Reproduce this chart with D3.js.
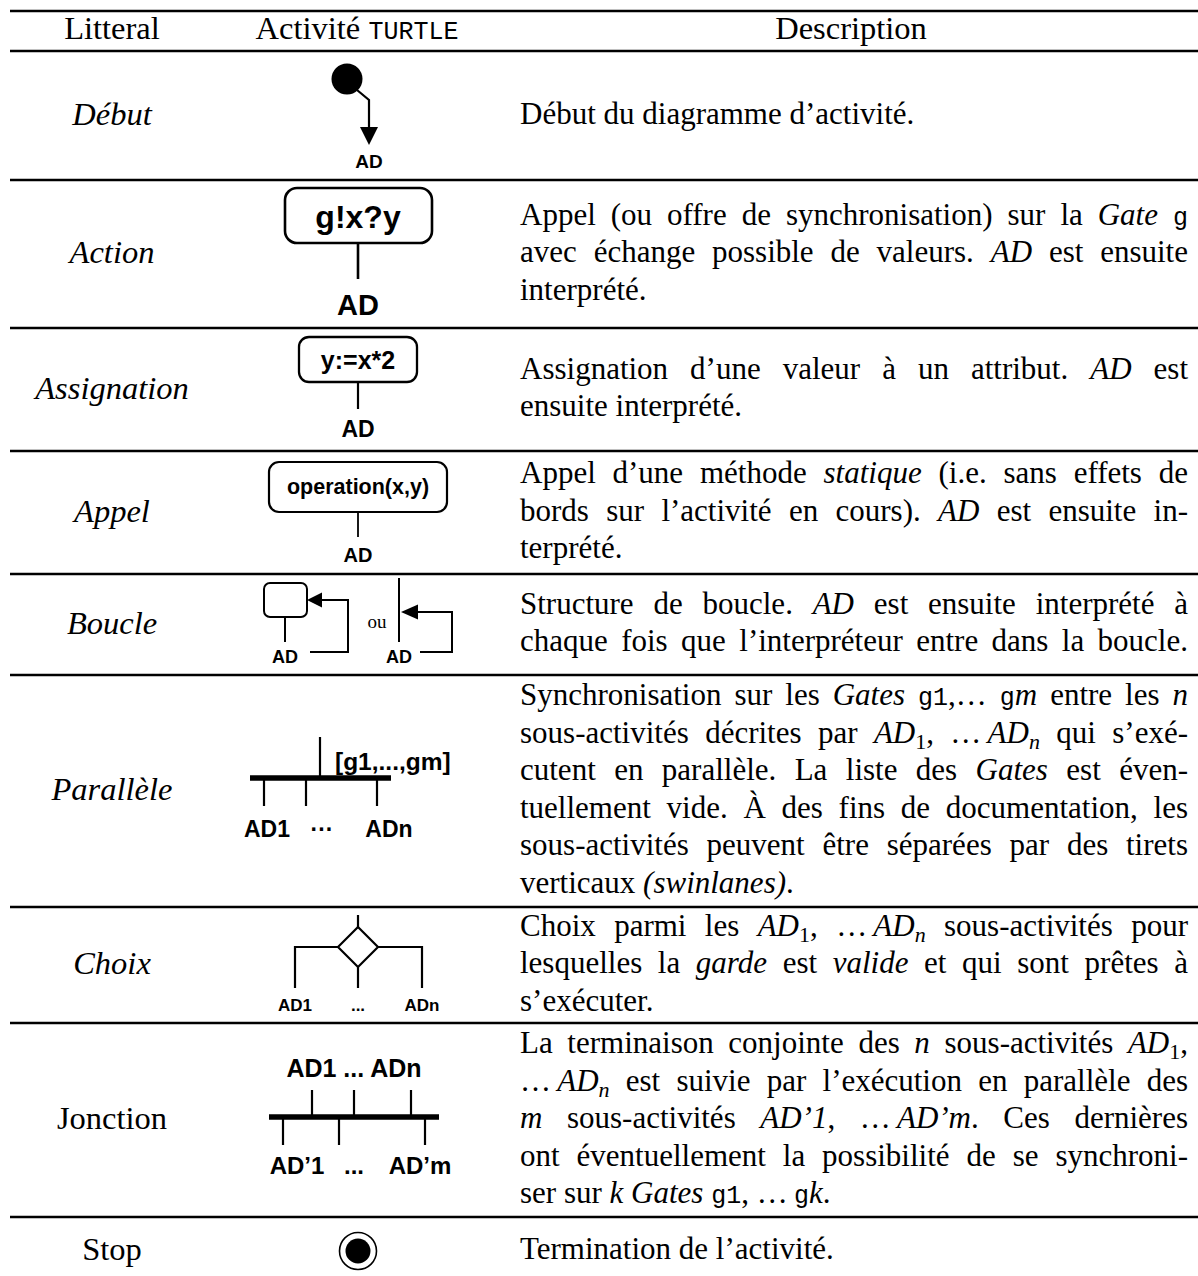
<!DOCTYPE html>
<html><head><meta charset="utf-8">
<script src="https://cdn.jsdelivr.net/npm/d3@7"></script>
<style>
html,body{margin:0;padding:0;background:#fff;}
svg{display:block;}
</style></head>
<body>
<svg id="chart" width="1198" height="1276"></svg>
<script>
// ---------------- data ----------------
const headers = ["Litteral", "Activité ", "TURTLE", "Description"];
const literals = ["Début","Action","Assignation","Appel","Boucle","Parallèle","Choix","Jonction","Stop"];
const uprightLiterals = ["Jonction","Stop"];
const descriptions = [
 ["Début du diagramme d’activité."],
 ["Appel (ou offre de synchronisation) sur la *Gate* `g`",
  "avec échange possible de valeurs. *AD* est ensuite",
  "interprété."],
 ["Assignation d’une valeur à un attribut. *AD* est",
  "ensuite interprété."],
 ["Appel d’une méthode *statique* (i.e. sans effets de",
  "bords sur l’activité en cours). *AD* est ensuite in-",
  "terprété."],
 ["Structure de boucle. *AD* est ensuite interprété à",
  "chaque fois que l’interpréteur entre dans la boucle."],
 ["Synchronisation sur les *Gates* `g1`,… `g`*m* entre les *n*",
  "sous-activités décrites par *AD*_1, …\u2009*AD*_n qui s’exé-",
  "cutent en parallèle. La liste des *Gates* est éven-",
  "tuellement vide. À des fins de documentation, les",
  "sous-activités peuvent être séparées par des tirets",
  "verticaux *(swinlanes)*."],
 ["Choix parmi les *AD*_1, …\u2009*AD*_n sous-activités pour",
  "lesquelles la *garde* est *valide* et qui sont prêtes à",
  "s’exécuter."],
 ["La terminaison conjointe des *n* sous-activités *AD*_1,",
  "…\u2009*AD*_n est suivie par l’exécution en parallèle des",
  "*m* sous-activités *AD’1*, …\u2009*AD’m*. Ces dernières",
  "ont éventuellement la possibilité de se synchroni-",
  "ser sur *k* *Gates* `g1`, …\u2009`g`*k*."],
 ["Termination de l’activité."]
];
const startLabel = "AD";
const actionLabel = "g!x?y";
const assignLabel = "y:=x*2";
const callLabel = "operation(x,y)";
const loopLabels = ["AD", "ou", "AD"];
const gateList = "[g1,...,gm]";
const parLabels = ["AD1","···","ADn"];
const choiceLabels = ["AD1","...","ADn"];
const joinInLabel = "AD1 ... ADn";
const joinOutLabels = ["AD’1","...","AD’m"];

// ---------------- layout / style ----------------
const SERIF = "'Liberation Serif','Times New Roman',serif";
const SANS = "'Liberation Sans',Arial,Helvetica,sans-serif";
const MONO = "'Liberation Mono','DejaVu Sans Mono',monospace";
const rules = [11, 51, 180, 328, 451, 574, 675, 907, 1023, 1217];
const lastBottom = 1284;
const tableX0 = 10, tableX1 = 1198;
const colLitX = 112, colActX = 358, descX0 = 520, descX1 = 1188, descHeadX = 851;
const lineGap = 37.5;
const FS = 31, FSH = 32.5;

const svg = d3.select("#chart");
const rowTops = rules.slice(1);
const rowBottoms = rules.slice(2).concat([lastBottom]);
const yTop = d3.scaleOrdinal().domain(literals).range(rowTops);
const yBot = d3.scaleOrdinal().domain(literals).range(rowBottoms);
const yMid = d => (yTop(d) + yBot(d)) / 2;

// rules
svg.append("g").selectAll("line").data(rules).join("line")
  .attr("x1", tableX0).attr("x2", tableX1)
  .attr("y1", d => d).attr("y2", d => d)
  .attr("stroke", "#000").attr("stroke-width", (d, i) => i < 2 ? 2.6 : 2.3);

// headers
const hg = svg.append("g").attr("font-family", SERIF).attr("font-size", FSH).attr("fill", "#000");
hg.append("text").attr("x", colLitX).attr("y", 39).attr("text-anchor", "middle").text(headers[0]);
const h2 = hg.append("text").attr("x", colActX - 1).attr("y", 39).attr("text-anchor", "middle");
h2.append("tspan").text(headers[1]);
h2.append("tspan").attr("font-family", MONO).attr("font-size", 25).text(headers[2]);
hg.append("text").attr("x", descHeadX).attr("y", 39).attr("text-anchor", "middle").text(headers[3]);

// literal labels
svg.append("g").selectAll("text").data(literals).join("text")
  .attr("x", colLitX).attr("y", d => yMid(d) + 9)
  .attr("text-anchor", "middle")
  .attr("font-family", SERIF).attr("font-size", FSH)
  .attr("font-style", d => uprightLiterals.includes(d) ? "normal" : "italic")
  .text(d => d);

// description text with justification
const fontFor = {
  r: {f: SERIF, s: FS, st: "normal"},
  i: {f: SERIF, s: FS, st: "italic"},
  t: {f: MONO, s: 25, st: "normal"},
  sub: {f: SERIF, s: 22, st: "normal"},
  subi: {f: SERIF, s: 22, st: "italic"}
};
function parseLine(s) {
  const segs = []; const st = {i: false, t: false}; let buf = "";
  const cur = () => st.t ? "t" : (st.i ? "i" : "r");
  const push = (txt, kind) => { if (txt) segs.push({txt, kind}); };
  for (let k = 0; k < s.length; k++) {
    const c = s[k];
    if (c === "*") { push(buf, cur()); buf = ""; st.i = !st.i; }
    else if (c === "`") { push(buf, cur()); buf = ""; st.t = !st.t; }
    else if (c === "_") { push(buf, cur()); buf = ""; const n = s[++k]; push(n, /[a-z]/i.test(n) ? "subi" : "sub"); }
    else buf += c;
  }
  push(buf, cur());
  return segs;
}
function toWords(segs) {
  const words = []; let w = [];
  segs.forEach(sg => {
    sg.txt.split(" ").forEach((p, j) => {
      if (j > 0) { if (w.length) words.push(w); w = []; }
      if (p) w.push({txt: p, kind: sg.kind});
    });
  });
  if (w.length) words.push(w);
  return words;
}
function renderWord(g, word, y) {
  const t = g.append("text").attr("x", 0).attr("y", y).attr("fill", "#000");
  let shifted = false;
  word.forEach(sg => {
    const f = fontFor[sg.kind];
    const ts = t.append("tspan").text(sg.txt)
      .attr("font-family", f.f).attr("font-size", f.s).attr("font-style", f.st);
    const isSub = sg.kind.startsWith("sub");
    if (isSub && !shifted) { ts.attr("dy", 6); shifted = true; }
    else if (!isSub && shifted) { ts.attr("dy", -6); shifted = false; }
  });
  return t;
}
const dg = svg.append("g");
const measure = descX1 - descX0;
const spaceW = 0.25 * FS;
descriptions.forEach((lines, ri) => {
  const lit = literals[ri];
  const n = lines.length;
  const y0 = yMid(lit) - (n - 1) * lineGap / 2 + 8;
  lines.forEach((line, li) => {
    const y = y0 + li * lineGap;
    const words = toWords(parseLine(line));
    const nodes = words.map(w => renderWord(dg, w, y));
    const widths = nodes.map(nd => nd.node().getComputedTextLength());
    const total = d3.sum(widths);
    const natural = total + spaceW * (words.length - 1);
    const isLast = li === n - 1;
    let gap = spaceW;
    if (words.length > 1 && (!isLast || natural > 0.92 * measure)) {
      gap = (measure - total) / (words.length - 1);
    }
    let x = descX0;
    nodes.forEach((nd, k) => { nd.attr("x", x); x += widths[k] + gap; });
  });
});

// ---------------- diagrams ----------------
const SW = 2.2;
function row(lit) { return svg.append("g").attr("transform", `translate(${colActX},${yTop(lit)})`); }
function poly(g, pts, w) {
  g.append("path").attr("d", d3.line()(pts)).attr("fill", "none")
    .attr("stroke", "#000").attr("stroke-width", w || SW).attr("stroke-linejoin", "miter");
}
function tri(g, pts) {
  g.append("path").attr("d", d3.line()(pts) + "Z").attr("fill", "#000");
}
function label(g, txt, x, y, size, anchor) {
  g.append("text").attr("x", x).attr("y", y).attr("text-anchor", anchor || "middle")
    .attr("font-family", SANS).attr("font-weight", "bold").attr("font-size", size)
    .attr("fill", "#000").text(txt);
}
function box(g, x0, x1, y0, y1, rx, w) {
  g.append("rect").attr("x", x0).attr("y", y0).attr("width", x1 - x0).attr("height", y1 - y0)
    .attr("rx", rx).attr("fill", "#fff").attr("stroke", "#000").attr("stroke-width", w || 2.5);
}

// Début
{
  const g = row("Début");
  g.append("circle").attr("cx", -11).attr("cy", 28).attr("r", 15.5).attr("fill", "#000");
  poly(g, [[-1, 39], [11, 49], [11, 77]]);
  tri(g, [[2, 76], [20, 76], [11, 94]]);
  label(g, startLabel, 11, 117, 19);
}
// Action
{
  const g = row("Action");
  box(g, -73, 74, 8, 63, 12, 2.6);
  label(g, actionLabel, 0, 48, 32);
  poly(g, [[0, 63], [0, 99]], 2.6);
  label(g, startLabel, 0, 135, 29);
}
// Assignation
{
  const g = row("Assignation");
  box(g, -59, 59, 9, 54, 10, 2.3);
  label(g, assignLabel, 0, 41, 25);
  poly(g, [[0, 54], [0, 81]]);
  label(g, startLabel, 0, 109, 23);
}
// Appel
{
  const g = row("Appel");
  box(g, -89, 89, 11, 61, 10, 2.2);
  label(g, callLabel, 0, 43, 21.5);
  poly(g, [[0, 61], [0, 86]], 1.8);
  label(g, startLabel, 0, 111, 20);
}
// Boucle
{
  const g = row("Boucle");
  box(g, -94, -51, 9, 43, 6, 2);
  poly(g, [[-73, 43], [-73, 68]], 2);
  label(g, loopLabels[0], -73, 89, 18);
  poly(g, [[-48, 78], [-10, 78], [-10, 26], [-37, 26]], 2);
  tri(g, [[-51, 26], [-36, 18.5], [-36, 33.5]]);
  g.append("text").attr("x", 19).attr("y", 54).attr("text-anchor", "middle")
    .attr("font-family", SERIF).attr("font-size", 19).attr("fill", "#000").text(loopLabels[1]);
  poly(g, [[41, 4], [41, 68]], 2);
  label(g, loopLabels[2], 41, 89, 18);
  poly(g, [[62, 78], [94, 78], [94, 38], [59, 38]], 2);
  tri(g, [[43, 38], [60, 30.5], [60, 45.5]]);
}
// Parallèle
{
  const g = row("Parallèle");
  poly(g, [[-38, 62], [-38, 103]]);
  poly(g, [[-108, 103], [33, 103]], 5.5);
  label(g, gateList, -23, 95, 24.5, "start");
  [-94, -52, 19].forEach(x => poly(g, [[x, 103], [x, 131]]));
  [-91, -36, 31].forEach((x, i) => label(g, parLabels[i], x, 162, 23));
}
// Choix
{
  const g = row("Choix");
  poly(g, [[0, 8], [0, 20]]);
  poly(g, [[0, 20], [20, 40], [0, 60], [-20, 40], [0, 20]]);
  poly(g, [[-20, 40], [-63, 40], [-63, 81]]);
  poly(g, [[20, 40], [64, 40], [64, 81]]);
  poly(g, [[0, 60], [0, 81]]);
  [-63, 0, 64].forEach((x, i) => label(g, choiceLabels[i], x, 104, 17));
}
// Jonction
{
  const g = row("Jonction");
  label(g, joinInLabel, -4, 54, 25);
  [-46, -4, 53].forEach(x => poly(g, [[x, 67], [x, 94]]));
  poly(g, [[-89, 94], [81, 94]], 5.5);
  [-75, -19, 67].forEach(x => poly(g, [[x, 94], [x, 122]]));
  [-61, -4, 62].forEach((x, i) => label(g, joinOutLabels[i], x, 151, 24));
}
// Stop
{
  const g = row("Stop");
  g.append("circle").attr("cx", 0).attr("cy", 34).attr("r", 18.5)
    .attr("fill", "#fff").attr("stroke", "#000").attr("stroke-width", 1.6);
  g.append("circle").attr("cx", 0).attr("cy", 34).attr("r", 12.5).attr("fill", "#000");
}
</script>
</body></html>
